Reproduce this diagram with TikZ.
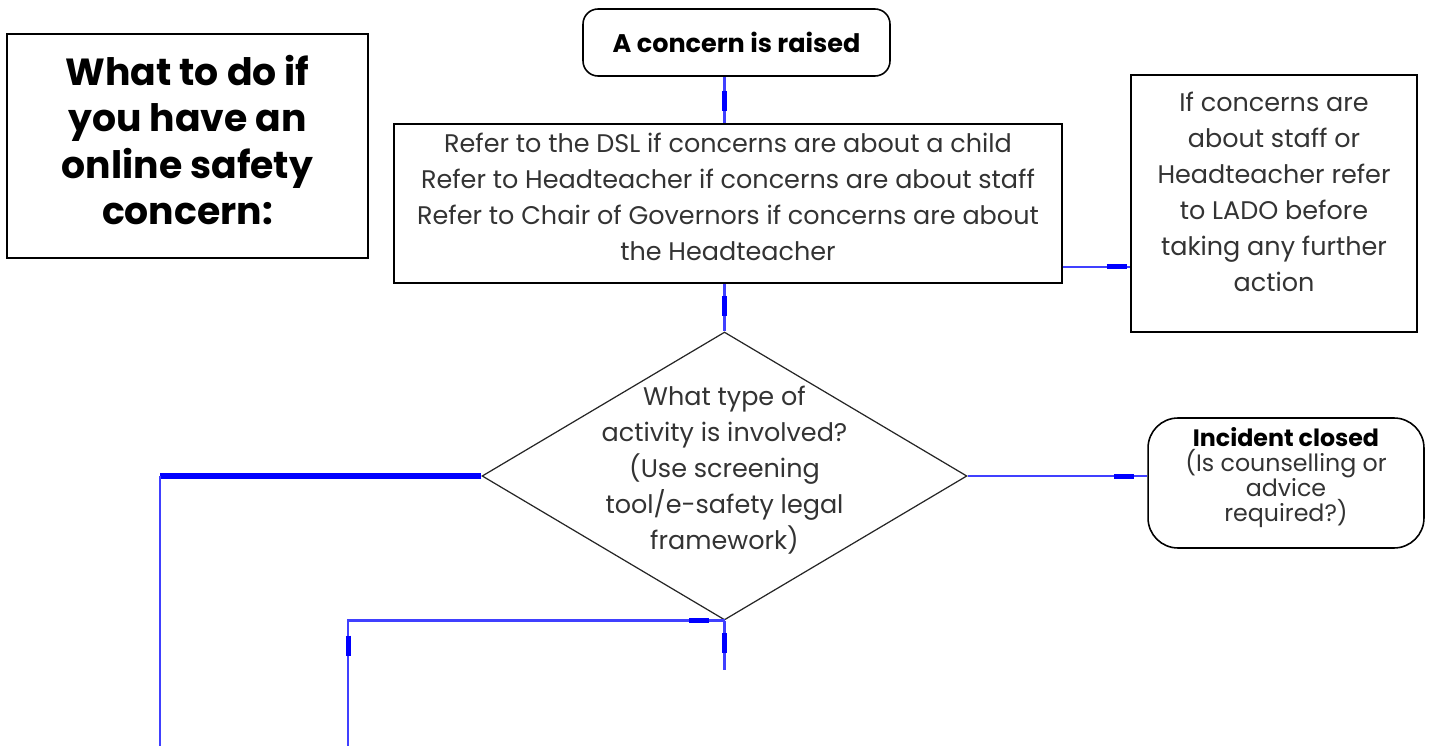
\documentclass[tikz,border=0pt]{standalone}
\usepackage{fontspec}
\setmainfont{Poppins}
\usepackage{tikz}
\usetikzlibrary{shapes.geometric,decorations.markings,positioning}
\tikzstyle{box}=[draw,line width=0.9pt,align=center,inner sep=0pt,font=\fontsize{14.5}{20.5}\selectfont,text=black!80]
\tikzstyle{link}=[draw=blue!75,line width=1.4pt]
\tikzstyle{heavylink}=[draw=blue,line width=3pt]
\tikzset{blip/.style={postaction={decorate,decoration={markings,
  mark=at position #1 with {\draw[blue,line width=0.1cm] (-0.2cm,0) -- (0.2cm,0);}}}}}

\begin{document}
\begin{tikzpicture}[x=0.02cm,y=-0.02cm]
\useasboundingbox (0,0) rectangle (1429,746);
% boxes
\node[box,text=black,minimum width=7.22cm,minimum height=4.48cm,text depth=7pt,font=\bfseries\fontsize{21.5}{26.5}\selectfont] (title) at (187.5,146) {What to do if\\you have an\\online safety\\concern:};
\node[box,text=black,rounded corners=0.3cm,minimum width=6.14cm,minimum height=1.34cm,font=\bfseries\fontsize{14.5}{20.5}\selectfont] (raised) at (736.5,42.5) {A concern is raised};
\node[box,minimum width=13.36cm,minimum height=3.18cm,text depth=8pt] (refer) at (728,203.5) {Refer to the DSL if concerns are about a child\\Refer to Headteacher if concerns are about staff\\Refer to Chair of Governors if concerns are about\\the Headteacher};
\node[box,minimum width=5.72cm,minimum height=5.14cm,text depth=13.5pt] (lado) at (1274,203.5) {If concerns are\\about staff or\\Headteacher refer\\to LADO before\\taking any further\\action};
\node[draw,diamond,line width=0.7pt,draw=black!85,inner sep=0pt,minimum width=9.7cm,minimum height=5.76cm] (act) at (724.5,476) {};
\node[align=center,inner sep=0pt,font=\fontsize{14.5}{20.5}\selectfont,text=black!80] (acttext) at (724.5,470) {What type of\\activity is involved?\\(Use screening\\tool/e-safety legal\\framework)};
\node[box,rounded corners=0.6cm,minimum width=5.52cm,minimum height=2.6cm,text depth=10pt,font=\fontsize{13.5}{14.2}\selectfont] (closed) at (1286,483) {{\bfseries\color{black}Incident closed}\\(Is counselling or\\advice\\required?)};
% free ends
\coordinate (leftend) at (160,746);
\coordinate (bottomend) at (348,746);
\coordinate (midend) at (724.5,670);
% connectors
\draw[link,blip=0.52] (raised.south -| act.north) -- (refer.north -| act.north);
\draw[link,blip=0.47] (refer.south -| act.north) -- (act.north);
\draw[link,blip=0.8] ([yshift=0.34cm]refer.south east) coordinate (r1) -- (r1 -| lado.west);
\draw[link,blip=0.87] (act.east) -- (act.east -| closed.west);
\draw[heavylink] (act.west) -- (act.west -| leftend);
\draw[link] (act.west -| leftend) -- (leftend);
\draw[link,blip=0.46] (act.south) -- (midend);
\draw[link,blip=0.05,blip=0.8] (act.south) -- (act.south -| bottomend) -- (bottomend);
\end{tikzpicture}
\end{document}
